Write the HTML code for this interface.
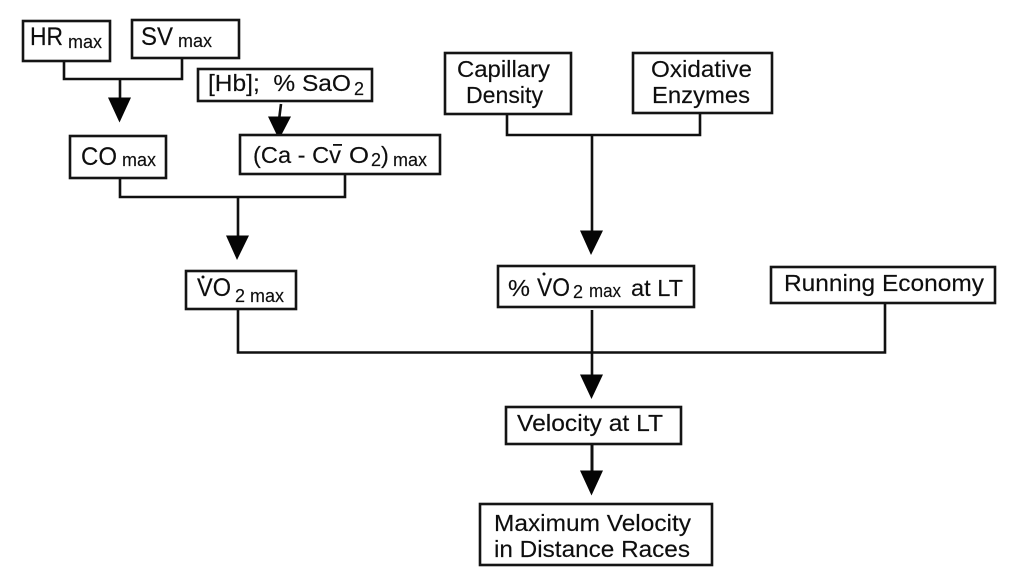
<!DOCTYPE html>
<html>
<head>
<meta charset="utf-8">
<style>
html,body{margin:0;padding:0;background:#fff;width:1020px;height:585px;overflow:hidden}
svg{display:block;filter:blur(0.35px)}
text{font-family:"Liberation Sans",Arial,sans-serif;fill:#0e0e0e;stroke:#0e0e0e;stroke-width:0.15}
.b{fill:#fff;stroke:#141414;stroke-width:2.6}
.l{fill:none;stroke:#101010;stroke-width:2.6}
.t{font-size:23.5px}
.h{font-size:25px}
.m{font-size:18px}
.a{fill:#050505}
</style>
</head>
<body>
<svg width="1020" height="585" viewBox="0 0 1020 585" xmlns="http://www.w3.org/2000/svg">
<!-- connectors -->
<path class="l" d="M64 61V79H182V58M120 79V100"/>
<path class="l" d="M281 104L279 120"/>
<path class="l" d="M120 179V197H345V174M238 197V238"/>
<path class="l" d="M507 114V135H700V113M592 135V233"/>
<path class="l" d="M238 309V352.500H885V303M592 310V377"/>
<path class="l" d="M592 444V473" style="stroke-width:3"/>
<!-- arrowheads -->
<polygon class="a" points="108,97.500 131,97.500 119.500,122.500"/>
<polygon class="a" points="268,116.500 291,116.500 279,139.500"/>
<polygon class="a" points="226,235.500 249,235.500 237,260"/>
<polygon class="a" points="580,230.500 603,230.500 591,255"/>
<polygon class="a" points="580,374.500 603,374.500 591.500,399"/>
<polygon class="a" points="580,470.500 603,470.500 591.500,495.500"/>
<!-- boxes -->
<rect class="b" x="23" y="21" width="87" height="40"/>
<rect class="b" x="132" y="20" width="107" height="38"/>
<rect class="b" x="198" y="69" width="174" height="32"/>
<rect class="b" x="70" y="136" width="96" height="42"/>
<rect class="b" x="240" y="135" width="200" height="39"/>
<rect class="b" x="186" y="271" width="110" height="38"/>
<rect class="b" x="445" y="53" width="126" height="61"/>
<rect class="b" x="633" y="53" width="139" height="60"/>
<rect class="b" x="498" y="266" width="196" height="41"/>
<rect class="b" x="771" y="267" width="224" height="36"/>
<rect class="b" x="506" y="407" width="175" height="37"/>
<rect class="b" x="480" y="504" width="232" height="61"/>
<!-- labels -->
<text class="h" x="30" y="45" textLength="33" lengthAdjust="spacingAndGlyphs">HR</text>
<text class="m" x="68" y="48" textLength="34" lengthAdjust="spacingAndGlyphs">max</text>
<text class="h" x="141" y="45" textLength="32" lengthAdjust="spacingAndGlyphs">SV</text>
<text class="m" x="178" y="47" textLength="34" lengthAdjust="spacingAndGlyphs">max</text>
<text class="t" x="208" y="91" textLength="143" lengthAdjust="spacingAndGlyphs" xml:space="preserve">[Hb];  % SaO</text>
<text class="m" x="354" y="95">2</text>
<text class="h" x="81" y="165" textLength="36" lengthAdjust="spacingAndGlyphs">CO</text>
<text class="m" x="122" y="166" textLength="34" lengthAdjust="spacingAndGlyphs">max</text>
<text class="t" x="253" y="163" textLength="88" lengthAdjust="spacingAndGlyphs">(Ca - Cv</text>
<rect x="333" y="144" width="9" height="1.800" fill="#101010"/>
<text class="t" x="349" y="163" textLength="20" lengthAdjust="spacingAndGlyphs">O</text>
<text class="m" x="371" y="166">2</text>
<text class="t" x="381" y="163">)</text>
<text class="m" x="393" y="166" textLength="34" lengthAdjust="spacingAndGlyphs">max</text>
<text class="h" x="197" y="296" textLength="34" lengthAdjust="spacingAndGlyphs">VO</text>
<circle cx="203" cy="277" r="1.500" fill="#101010"/>
<text class="m" x="235" y="302" textLength="49" lengthAdjust="spacingAndGlyphs" xml:space="preserve">2 max</text>
<text class="t" x="457" y="77" textLength="93" lengthAdjust="spacingAndGlyphs">Capillary</text>
<text class="t" x="466" y="103" textLength="77" lengthAdjust="spacingAndGlyphs">Density</text>
<text class="t" x="651" y="77" textLength="101" lengthAdjust="spacingAndGlyphs">Oxidative</text>
<text class="t" x="652" y="103" textLength="98" lengthAdjust="spacingAndGlyphs">Enzymes</text>
<text class="t" x="508" y="296" textLength="22" lengthAdjust="spacingAndGlyphs">%</text>
<text class="h" x="537" y="296" textLength="33" lengthAdjust="spacingAndGlyphs">VO</text>
<circle cx="544" cy="274" r="1.500" fill="#101010"/>
<text class="m" x="573" y="298">2</text>
<text class="m" x="589" y="297" textLength="32" lengthAdjust="spacingAndGlyphs">max</text>
<text class="t" x="631" y="296" textLength="52" lengthAdjust="spacingAndGlyphs">at LT</text>
<text class="t" x="784" y="291" textLength="200" lengthAdjust="spacingAndGlyphs">Running Economy</text>
<text class="t" x="517" y="431" textLength="146" lengthAdjust="spacingAndGlyphs">Velocity at LT</text>
<text class="t" x="494" y="531" textLength="197" lengthAdjust="spacingAndGlyphs">Maximum Velocity</text>
<text class="t" x="494" y="557" textLength="196" lengthAdjust="spacingAndGlyphs">in Distance Races</text>
</svg>
</body>
</html>
